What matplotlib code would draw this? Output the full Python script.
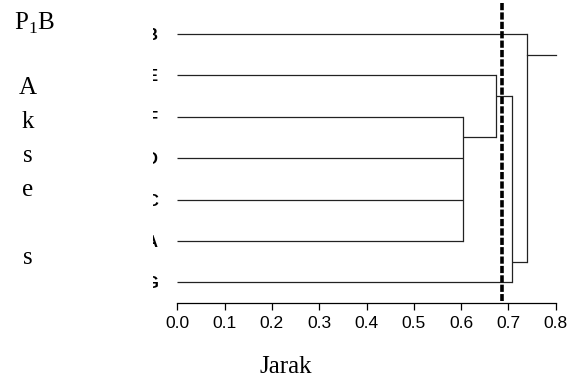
import matplotlib
matplotlib.use("Agg")
import matplotlib.pyplot as plt
from matplotlib.patches import Rectangle

plt.rcParams['mathtext.fontset'] = 'custom'
plt.rcParams['mathtext.rm'] = 'Liberation Serif'

# leaf order, top to bottom
leaves = ['B', 'E', 'F', 'D', 'C', 'A', 'G']

# merges: children, height (Jarak), and where the link leaves the bracket
merge_children = [['F', 'D', 'C', 'A'], ['E', 'c1'], ['c2', 'G'], ['B', 'c3']]
merge_height = [0.604, 0.674, 0.708, 0.740]
merge_anchor = [2.5, 1.5, 5.5, 0.5]
root_end = 0.80
cut_height = 0.686

xticks = [0.0, 0.1, 0.2, 0.3, 0.4, 0.5, 0.6, 0.7, 0.8]
side_letters = ['A', 'k', 's', 'e', '', 's']

W, H = 571, 381
fig = plt.figure(figsize=(W / 100, H / 100), dpi=100)
ax = fig.add_axes([177.3 / W, 1 - 303 / H, (555.7 - 177.3) / W, 300 / H])

pos = {name: (i, 0.0) for i, name in enumerate(leaves)}
lc = '#222222'
for k, kids in enumerate(merge_children):
    h = merge_height[k]
    ys = []
    for c in kids:
        y, x0 = pos[c]
        ax.plot([x0, h], [y, y], color=lc, lw=0.9, solid_capstyle='butt')
        ys.append(y)
    ax.plot([h, h], [min(ys), max(ys)], color=lc, lw=0.9)
    pos['c%d' % (k + 1)] = (merge_anchor[k], h)

y, x0 = pos['c%d' % len(merge_children)]
ax.plot([x0, root_end], [y, y], color=lc, lw=0.9, clip_on=False)

ax.plot([cut_height, cut_height], [-0.75, 6.45], color='black', lw=2.6,
        linestyle=(0, (2.0, 0.6)), clip_on=False, zorder=5)

ax.set_xlim(0, 0.8)
ax.set_ylim(6.5, -0.75)
for s in ['top', 'right', 'left']:
    ax.spines[s].set_visible(False)
ax.spines['bottom'].set_bounds(0, 0.8)
ax.spines['bottom'].set_linewidth(0.9)
ax.set_xticks(xticks)
ax.set_xticklabels(['%.1f' % t for t in xticks], fontfamily='Liberation Sans', fontsize=12.5)
ax.tick_params(axis='x', direction='out', length=5, width=0.9, pad=4)
ax.set_yticks(range(len(leaves)))
ax.set_yticklabels(leaves, fontfamily='Liberation Sans', fontsize=12, fontweight='bold')
ax.tick_params(axis='y', length=0, pad=14)

# white block over the left part of the leaf labels
fig.patches.append(Rectangle((58 / W, 0), (153 - 58) / W, 1, transform=fig.transFigure,
                             facecolor='white', edgecolor='none', zorder=10))

serif = 'Liberation Serif'
fig.text(14 / W, 1 - 23 / H, r'P$_\mathrm{1}$B', fontfamily=serif, fontsize=18, va='center',
         ha='left', zorder=11)
for i, ch in enumerate(side_letters):
    fig.text(28 / W, 1 - (88 + 34 * i) / H, ch, fontfamily=serif, fontsize=18,
             va='center', ha='center', zorder=11)
fig.text(286 / W, 1 - 367 / H, 'Jarak', fontfamily=serif, fontsize=18, va='center',
         ha='center', zorder=11)

fig.savefig('out.png', dpi=100)
